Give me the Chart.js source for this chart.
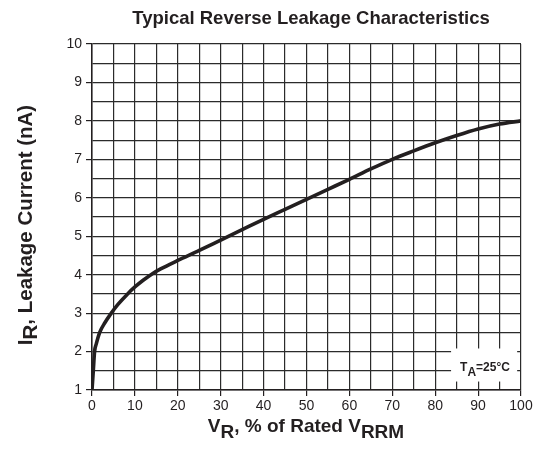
<!DOCTYPE html>
<html>
<head>
<meta charset="utf-8">
<script src="https://cdn.jsdelivr.net/npm/chart.js@4.4.0/dist/chart.umd.min.js"></script>
<style>
  html, body { margin: 0; padding: 0; background: #fff; }
  #wrap { width: 542px; height: 450px; }
</style>
</head>
<body>
<div id="wrap"><canvas id="myChart"></canvas></div>
<script>
// values
const voltagePct = [0, 0.3, 0.6, 1, 1.8, 3, 4.5, 6, 8.3, 10, 12, 14, 16, 20, 25, 30, 35, 40, 45, 50, 55, 60, 65, 70, 75, 80, 85, 90, 95, 100];
const leakageNa = [1.0, 1.5, 2.0, 2.2, 2.5, 2.75, 3.0, 3.22, 3.5, 3.68, 3.86, 4.02, 4.15, 4.37, 4.63, 4.9, 5.17, 5.44, 5.7, 5.96, 6.22, 6.48, 6.75, 7.0, 7.22, 7.43, 7.62, 7.79, 7.92, 8.0];
const xTicks = [0, 10, 20, 30, 40, 50, 60, 70, 80, 90, 100];
const yTicks = [1, 2, 3, 4, 5, 6, 7, 8, 9, 10];

const ink = '#231f20';
const fontFam = '"Liberation Sans", Arial, sans-serif';

// draws a run of text where some parts are subscripts, starting at x (left)
function drawRuns(c, runs, x, y, size, subSize, subDrop) {
    runs.forEach(r => {
        c.font = 'bold ' + (r.sub ? subSize : size) + 'px ' + fontFam;
        c.fillText(r.t, x, y + (r.sub ? subDrop : 0));
        x += c.measureText(r.t).width;
    });
}
function runsWidth(c, runs, size, subSize) {
    let w = 0;
    runs.forEach(r => {
        c.font = 'bold ' + (r.sub ? subSize : size) + 'px ' + fontFam;
        w += c.measureText(r.t).width;
    });
    return w;
}

const labelsPlugin = {
    id: 'labels',
    beforeDatasetsDraw(chart) {
        // white box behind the temperature note
        const c = chart.ctx, xs = chart.scales.x, ys = chart.scales.y;
        const x0 = xs.getPixelForValue(83.7), x1 = xs.getPixelForValue(99.1);
        const y0 = ys.getPixelForValue(2.08), y1 = ys.getPixelForValue(1.22);
        c.save();
        c.fillStyle = '#fff';
        c.fillRect(x0, y0, x1 - x0, y1 - y0);
        c.fillStyle = ink;
        c.textBaseline = 'alphabetic';
        c.textAlign = 'left';
        drawRuns(c, [{t: 'T'}, {t: 'A', sub: true}, {t: '=25°C'}], xs.getPixelForValue(85.8), ys.getPixelForValue(1.5), 12, 12, 5);
        c.restore();
    },
    afterDraw(chart) {
        const c = chart.ctx;
        c.save();
        c.fillStyle = ink;
        c.textBaseline = 'alphabetic';
        c.textAlign = 'left';

        // chart title
        c.font = 'bold 18.5px ' + fontFam;
        c.textAlign = 'center';
        c.fillText('Typical Reverse Leakage Characteristics', 311, 24);
        c.textAlign = 'left';

        // x axis title
        const xr = [{t: 'V'}, {t: 'R', sub: true}, {t: ', % of Rated V'}, {t: 'RRM', sub: true}];
        const xw = runsWidth(c, xr, 19, 19);
        drawRuns(c, xr, 306 - xw / 2, 432, 19, 19, 6);

        // y axis title
        const yr = [{t: 'I'}, {t: 'R', sub: true}, {t: ', Leakage Current (nA)'}];
        const yw = runsWidth(c, yr, 20.5, 20.5);
        c.translate(32, 225);
        c.rotate(-Math.PI / 2);
        drawRuns(c, yr, -yw / 2, 0, 20.5, 20.5, 5);
        c.restore();
    }
};

new Chart(document.getElementById('myChart'), {
    type: 'line',
    data: {
        datasets: [{
            label: 'Leakage',
            data: voltagePct.map((v, i) => ({x: v, y: leakageNa[i]})),
            borderColor: ink,
            borderWidth: 3.6,
            pointRadius: 0,
            fill: false,
            cubicInterpolationMode: 'monotone'
        }]
    },
    options: {
        responsive: true,
        maintainAspectRatio: false,
        animation: false,
        layout: { padding: { top: 44, right: 21, left: 0, bottom: 0 } },
        plugins: {
            legend: { display: false },
            tooltip: { enabled: false }
        },
        scales: {
            x: {
                type: 'linear',
                min: 0,
                max: 100,
                afterFit: s => { s.height = 60; },
                ticks: {
                    stepSize: 5,
                    autoSkip: false,
                    maxRotation: 0,
                    padding: 2,
                    color: ink,
                    font: { family: fontFam, size: 14 },
                    callback: v => xTicks.includes(v) ? v : ''
                },
                grid: {
                    color: '#2b2b2b',
                    lineWidth: 1.2,
                    tickLength: 6,
                    tickColor: ctx => xTicks.includes(ctx.tick ? ctx.tick.value : -1) ? ink : 'rgba(0,0,0,0)'
                },
                border: { color: ink, width: 1.5 }
            },
            y: {
                type: 'linear',
                min: 1,
                max: 10,
                afterFit: s => { s.width = 92; },
                ticks: {
                    stepSize: 0.5,
                    autoSkip: false,
                    padding: 4,
                    color: ink,
                    font: { family: fontFam, size: 14 },
                    callback: v => yTicks.includes(v) ? v : ''
                },
                grid: {
                    color: '#2b2b2b',
                    lineWidth: 1.2,
                    tickLength: 6,
                    tickColor: ctx => yTicks.includes(ctx.tick ? ctx.tick.value : -1) ? ink : 'rgba(0,0,0,0)'
                },
                border: { color: ink, width: 1.5 }
            }
        }
    },
    plugins: [labelsPlugin]
});
</script>
</body>
</html>
